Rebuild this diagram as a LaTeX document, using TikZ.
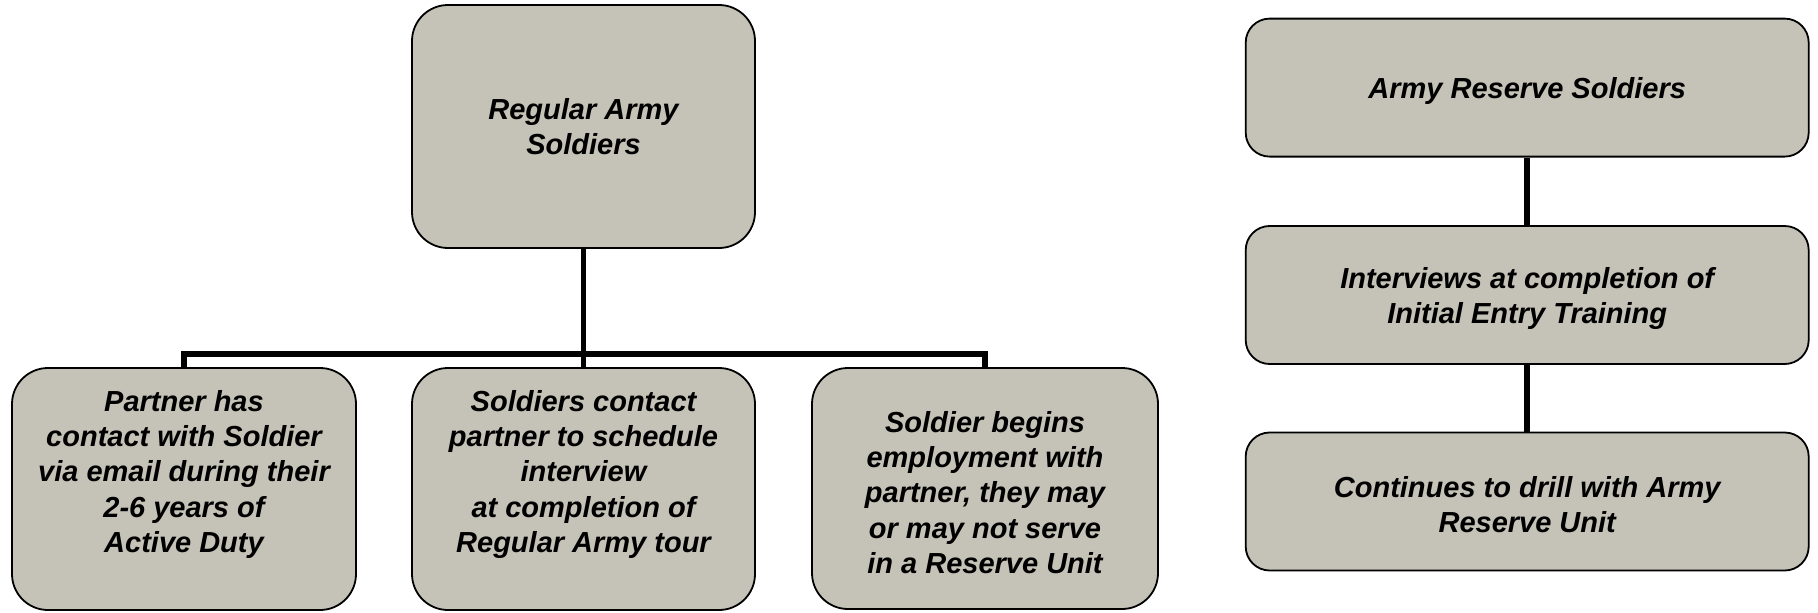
\documentclass[tikz,border=0pt]{standalone}
\usepackage{fontspec}
\setmainfont{Liberation Sans}
\definecolor{boxfill}{RGB}{197,195,183}
\newcommand\firstlift[1]{\rule{0pt}{#1}}
\tikzset{
  bigbox/.style={draw=black, line width=1.8pt, fill=boxfill, rounded corners=36pt,
    inner sep=0pt, align=center, font=\fontsize{29}{35.4}\selectfont\bfseries\itshape},
  resbox/.style={draw=black, line width=1.8pt, fill=boxfill, rounded corners=24pt,
    inner sep=0pt, align=center, minimum width=563pt, minimum height=138pt,
    font=\fontsize{29}{35}\selectfont\bfseries\itshape},
  conn/.style={draw=black, line width=5.5pt}
}
\begin{document}
\begin{tikzpicture}[x=1pt,y=-1pt]
\useasboundingbox (0,0) rectangle (1818,613);
\coordinate (j) at (583.5,354);
\node[bigbox, minimum width=343pt, minimum height=243pt] (top) at (583.5,126.5) {Regular Army\\Soldiers};
\node[bigbox, minimum width=344pt, minimum height=242pt] (bl) at (184,489) {Partner has\\contact with Soldier\\via email during their\\2-6 years of\\Active Duty\\~};
\node[bigbox, minimum width=343pt, minimum height=242pt] (bm) at (583.5,489) {Soldiers contact\\partner to schedule\\interview\\at completion of\\Regular Army tour\\~};
\node[bigbox, minimum width=346pt, minimum height=241pt] (br) at (985,488.5) {\firstlift{29pt}Soldier begins\\employment with\\partner, they may\\or may not serve\\in a Reserve Unit};
\node[resbox] (r1) at (1527.2,87.6) {\firstlift{28pt}Army Reserve Soldiers};
\node[resbox] (r2) at (1527.2,295) {\firstlift{28pt}Interviews at completion of\\Initial Entry Training};
\node[resbox] (r3) at (1527.2,501.5) {\firstlift{28pt}Continues to drill with Army\\Reserve Unit};
\draw[conn] (top.south) -- (bm.north);
\draw[conn] (bl.north) |- (j) -| (br.north);
\draw[conn] (r1.south) -- (r2.north);
\draw[conn] (r2.south) -- (r3.north);
\end{tikzpicture}
\end{document}
